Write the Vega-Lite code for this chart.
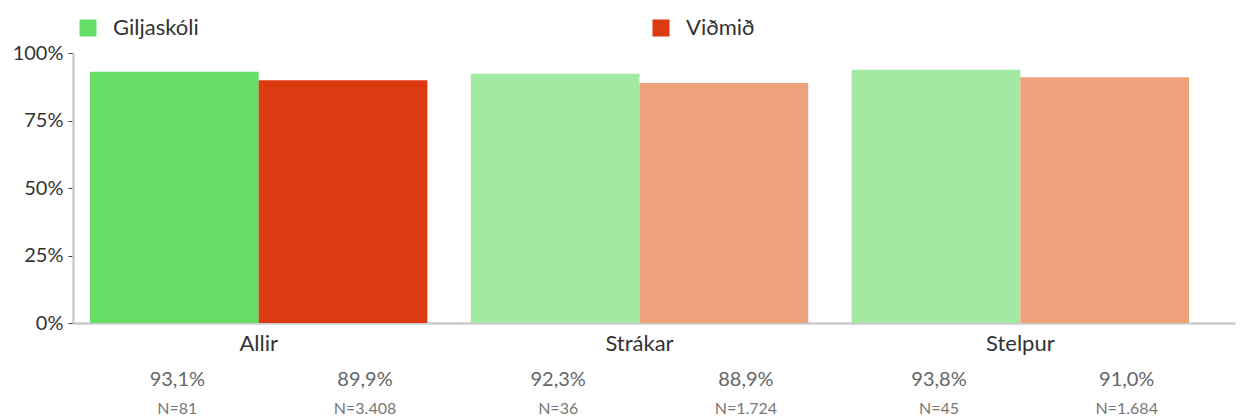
{
  "$schema": "https://vega.github.io/schema/vega-lite/v6.json",
  "autosize": {"type": "none"},
  "width": 1162,
  "height": 270,
  "padding": {"left": 73, "top": 53, "right": 12, "bottom": 97},
  "background": "white",
  "config": {
    "font": "Lato",
    "view": {"stroke": null},
    "locale": {
      "number": {"decimal": ",", "thousands": ".", "grouping": [3], "currency": ["", " kr."]}
    }
  },
  "data": {
    "values": [
      {"group": "Allir", "series": "Giljaskóli", "value": 0.931, "n": 81},
      {"group": "Allir", "series": "Viðmið", "value": 0.899, "n": 3408},
      {"group": "Strákar", "series": "Giljaskóli", "value": 0.923, "n": 36},
      {"group": "Strákar", "series": "Viðmið", "value": 0.889, "n": 1724},
      {"group": "Stelpur", "series": "Giljaskóli", "value": 0.938, "n": 45},
      {"group": "Stelpur", "series": "Viðmið", "value": 0.910, "n": 1684}
    ]
  },
  "transform": [
    {"calculate": "datum.group === 'Allir' ? datum.series : datum.series + ' (ljós)'", "as": "shade"},
    {"calculate": "'N=' + format(datum.n, ',d')", "as": "nLabel"}
  ],
  "encoding": {
    "x": {
      "field": "group",
      "type": "nominal",
      "sort": ["Allir", "Strákar", "Stelpur"],
      "scale": {"paddingInner": 0.114, "paddingOuter": 0.0826, "align": 0.27},
      "axis": {
        "title": null,
        "labelAngle": 0,
        "ticks": false,
        "labelFontSize": 22,
        "labelColor": "#333333",
        "labelPadding": 10,
        "domainColor": "#cccccc",
        "domainWidth": 2.5
      }
    },
    "xOffset": {"field": "series", "type": "nominal", "sort": ["Giljaskóli", "Viðmið"], "scale": {"paddingInner": 0, "paddingOuter": 0}}
  },
  "layer": [
    {
      "mark": {"type": "bar"},
      "encoding": {
        "y": {
          "field": "value",
          "type": "quantitative",
          "scale": {"domain": [0, 1]},
          "axis": {
            "title": null,
            "values": [0, 0.25, 0.5, 0.75, 1],
            "format": "%",
            "grid": false,
            "labelFontSize": 20,
            "labelColor": "#333333",
            "labelPadding": 5,
            "tickSize": 5,
            "tickColor": "#444444",
            "tickOffset": 0,
            "domainColor": "#cccccc",
            "domainWidth": 2.5
          }
        },
        "color": {
          "field": "shade",
          "type": "nominal",
          "scale": {
            "domain": ["Giljaskóli", "Viðmið", "Giljaskóli (ljós)", "Viðmið (ljós)"],
            "range": ["#66DD66", "#DD3A11", "#A3E9A3", "#EEA27C"]
          },
          "legend": {
            "title": null,
            "values": ["Giljaskóli", "Viðmið"],
            "orient": "top",
            "direction": "horizontal",
            "symbolType": "square",
            "symbolSize": 290,
            "symbolStrokeWidth": 0,
            "symbolOffset": 4,
            "labelFontSize": 22,
            "labelColor": "#333333",
            "columnPadding": 447,
            "offset": 14,
            "labelOffset": 14
          }
        }
      }
    },
    {
      "transform": [{"filter": "datum.series === 'Giljaskóli'"}],
      "mark": {"type": "text", "fontSize": 20, "color": "#666666", "dy": 57, "dx": 3},
      "encoding": {"y": {"datum": 0, "type": "quantitative"}, "text": {"field": "value", "type": "quantitative", "format": ".1%"}}
    },
    {
      "transform": [{"filter": "datum.series === 'Viðmið'"}],
      "mark": {"type": "text", "fontSize": 20, "color": "#666666", "dy": 57, "dx": 22},
      "encoding": {"y": {"datum": 0, "type": "quantitative"}, "text": {"field": "value", "type": "quantitative", "format": ".1%"}}
    },
    {
      "transform": [{"filter": "datum.series === 'Giljaskóli'"}],
      "mark": {"type": "text", "fontSize": 16, "color": "#777777", "dy": 86, "dx": 3},
      "encoding": {"y": {"datum": 0, "type": "quantitative"}, "text": {"field": "nLabel", "type": "nominal"}}
    },
    {
      "transform": [{"filter": "datum.series === 'Viðmið'"}],
      "mark": {"type": "text", "fontSize": 16, "color": "#777777", "dy": 86, "dx": 22},
      "encoding": {"y": {"datum": 0, "type": "quantitative"}, "text": {"field": "nLabel", "type": "nominal"}}
    }
  ]
}
